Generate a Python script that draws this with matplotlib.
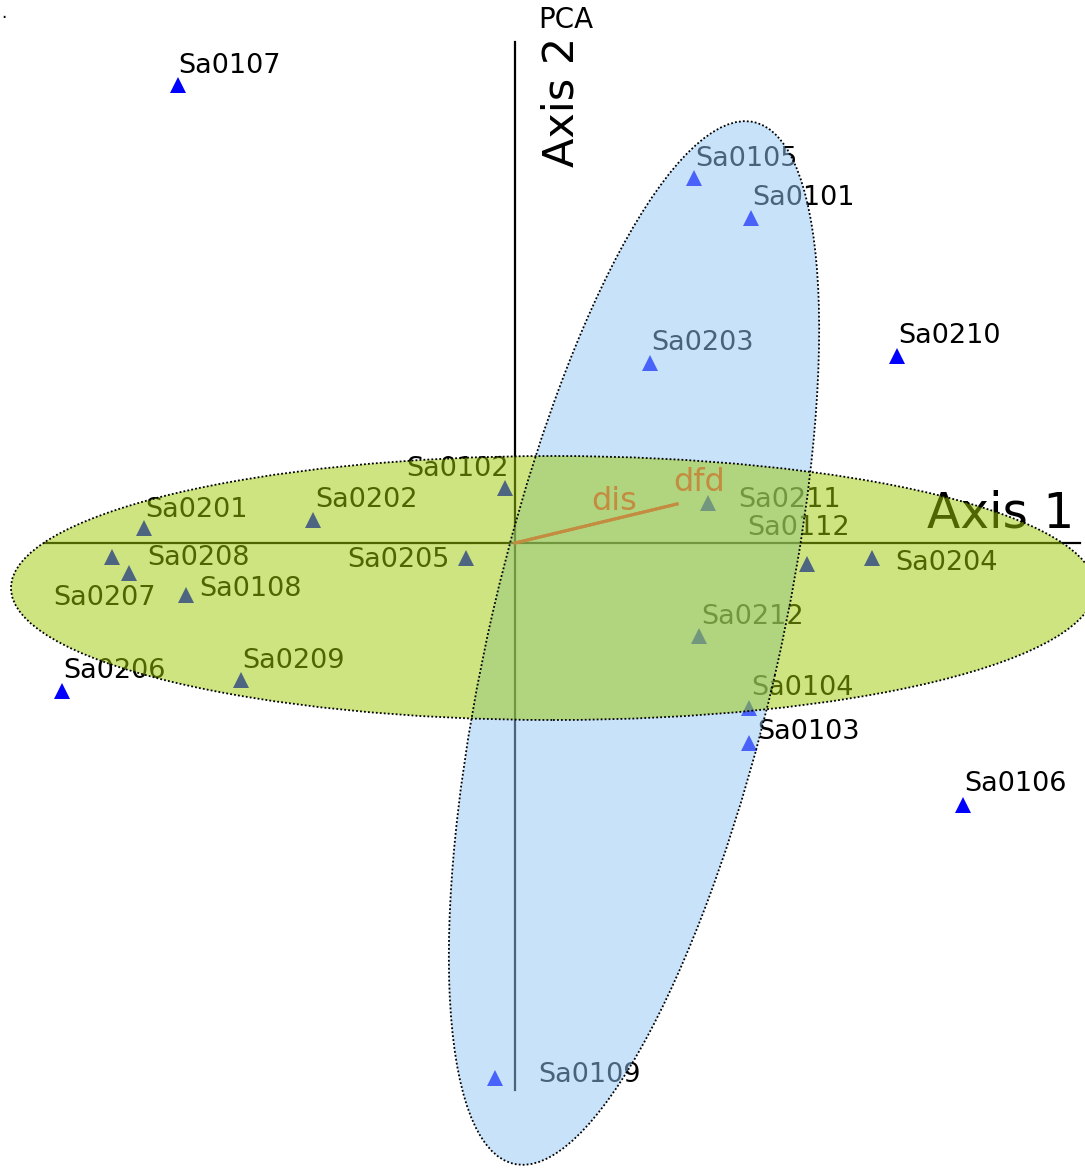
import matplotlib
matplotlib.use('Agg')
import matplotlib.pyplot as plt
from matplotlib.patches import Ellipse

# ── Dados (scores dos eixos 1 e 2) ────────────────────────────────────────────
samples = ['Sa0107', 'Sa0105', 'Sa0101', 'Sa0203', 'Sa0210', 'Sa0102',
           'Sa0201', 'Sa0202', 'Sa0211', 'Sa0112', 'Sa0204', 'Sa0208',
           'Sa0207', 'Sa0205', 'Sa0108', 'Sa0212', 'Sa0206', 'Sa0209',
           'Sa0104', 'Sa0103', 'Sa0106', 'Sa0109']
axis1 = [-3.37, 1.79, 2.36, 1.35, 3.82, -0.10,
         -3.71, -2.02, 1.93, 2.92, 3.57, -4.03,
         -3.86, -0.49, -3.29, 1.84, -4.53, -2.74,
         2.34, 2.34, 4.48, -0.20]
axis2 = [4.58, 3.65, 3.25, 1.80, 1.87, 0.55,
         0.15, 0.23, 0.40, -0.21, -0.15, -0.14,
         -0.30, -0.15, -0.52, -0.93, -1.48, -1.37,
         -1.65, -2.00, -2.62, -5.35]

# variáveis (loadings)
variables = ['dis', 'dfd']
var_x = [1.62, 1.62]
var_y = [0.39, 0.39]

# elipses de grupo: centro, largura, altura, ângulo
ell_centers = [(1.19, -1.00), (0.38, -0.45)]
ell_widths  = [10.69, 10.84]
ell_heights = [2.89, 2.64]
ell_angles  = [77.0, 0.0]
ell_colors  = ['#93c7f7', '#9cca04']

# ── Layout (deslocamento dos rótulos em pixels) ───────────────────────────────
label_off = [(0, 12), (1, 12), (1, 13), (1, 13), (1, 13), (-99, 12),
             (1, 11), (2, 13), (30, -4), (-60, 29), (23, -12), (35, -8),
             (-76, -32), (-119, -9), (13, -1), (2, 12), (1, 13), (1, 12),
             (2, 13), (8, 4), (1, 14), (43, -4)]
var_off = [(-86, -6), (-4, 13)]

W, H = 1085, 1169
fig = plt.figure(figsize=(W / 100, H / 100), dpi=100)
ax = fig.add_axes([0, 0, 1, 1])
ax.set_xlim(-5.15, 5.70)
ax.set_ylim(-6.26, 5.43)
ax.axis('off')

# eixos
ax.plot([-4.70, 5.65], [0, 0], color='black', lw=1.6, zorder=1)
ax.plot([0, 0], [-5.47, 5.01], color='black', lw=1.6, zorder=1)

# pontos e rótulos
ax.plot(axis1, axis2, '^', color='#0000ff', ms=12, mew=0, zorder=2)
for name, x, y, off in zip(samples, axis1, axis2, label_off):
    ax.annotate(name, (x, y), xytext=off, textcoords='offset pixels',
                fontsize=19.5, color='black', ha='left', va='baseline', zorder=2)

ax.text(4.12, 0.16, 'Axis 1', fontsize=35, ha='left', va='baseline', zorder=2)
ax.text(0.58, 3.76, 'Axis 2', fontsize=31, rotation=90, rotation_mode='anchor',
        ha='left', va='baseline', zorder=2)
ax.text(0.23, 5.15, 'PCA', fontsize=20, ha='left', va='baseline')
ax.text(-5.14, 5.25, '.', fontsize=12, ha='left', va='baseline')

# elipses (preenchimento translúcido por cima, contorno pontilhado)
for k, (c, w, h, a, col) in enumerate(zip(ell_centers, ell_widths, ell_heights,
                                          ell_angles, ell_colors)):
    ax.add_patch(Ellipse(c, w, h, angle=a, facecolor=col, alpha=0.5,
                         edgecolor='none', zorder=3 + k))
for c, w, h, a in zip(ell_centers, ell_widths, ell_heights, ell_angles):
    ax.add_patch(Ellipse(c, w, h, angle=a, facecolor='none', edgecolor='black',
                         lw=1.3, ls=(0, (1, 1.2)), zorder=6))

# vetores das variáveis
for name, x, y, off in zip(variables, var_x, var_y, var_off):
    ax.plot([0, x], [0, y], color='#c48c40', lw=2.2, zorder=7)
    ax.annotate(name, (x, y), xytext=off, textcoords='offset pixels',
                fontsize=23, color='#c48c40', ha='left', va='baseline', zorder=7)

plt.savefig('out.png', dpi=100)
plt.close()
